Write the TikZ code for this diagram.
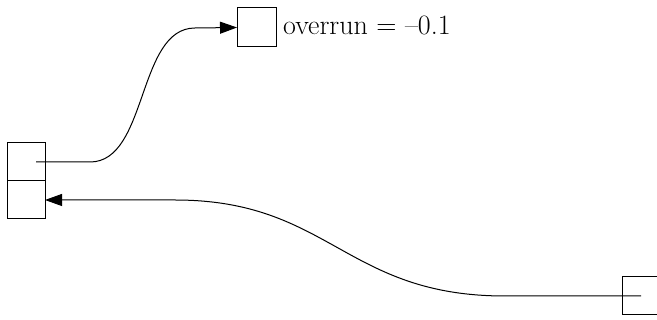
\documentclass[tikz,border=0pt]{standalone}
\usetikzlibrary{arrows.meta}
\begin{document}
\begin{tikzpicture}[x=1pt,y=-1pt,
  cell/.style={draw, line width=1pt, minimum width=38pt, minimum height=38pt, inner sep=0pt, outer sep=0pt},
  link/.style={line width=1pt, -{Triangle[length=17pt,width=12pt]}},
  lbl/.style={font=\fontsize{28}{32}\selectfont, anchor=base west, inner sep=0pt}]
\useasboundingbox (0,0) rectangle (657,320);
\node[cell] (ltop) at (26,162) {};
\node[cell] (lbot) at (26,200) {};
\node[cell, minimum width=39pt, minimum height=39pt] (top) at (256.5,27.5) {};
\node[cell] (rbox) at (641,296) {};
\node[lbl] (txt) at (283,35) {overrun = --0.1};
\coordinate (s1) at ([xshift=10pt]ltop.center);
\draw[link] (s1) -- (90,162) .. controls (148,162) and (137,28) .. (195,28) -- (top.west);
\draw[link] (rbox.center) -- (505,296) .. controls (345,296) and (330,200) .. (175,200) -- (lbot.east);
\end{tikzpicture}
\end{document}
